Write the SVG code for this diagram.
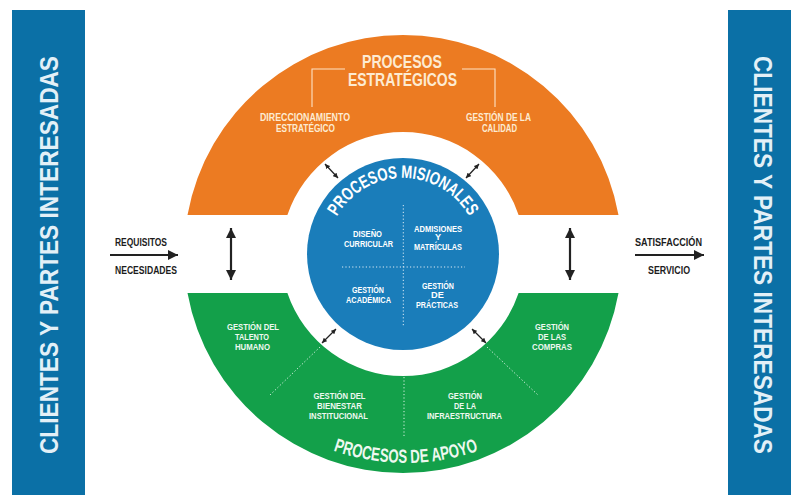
<svg xmlns="http://www.w3.org/2000/svg" width="791" height="495" viewBox="0 0 791 495">
  <style>
    .f { font-family: "Liberation Sans Narrow", "Liberation Sans", Arial, sans-serif; font-weight: bold; text-anchor: middle; }
    .bar { fill: #0b70a6; }
    .bartxt { font-family: "Liberation Sans Narrow", "Liberation Sans", Arial, sans-serif; font-weight: bold; font-size: 26px; fill: #e3f0f7; text-anchor: middle; }
    .dark { fill: #1c1c1c; font-size: 11.5px; }
    .cream { fill: #fdebd2; }
    .mint { fill: #eef8f0; }
    .wht { fill: #ffffff; }
    .s10 { font-size: 9.2px; }
    .s11 { font-size: 10.5px; }
    .title { font-size: 19px; }
    .arr { stroke: #222; stroke-width: 2.2; fill: none; }
    .sarr { stroke: #222; stroke-width: 1.3; fill: none; }
    .dotw { stroke: #ffffff; stroke-width: 1; stroke-dasharray: 1.2 2.2; fill: none; opacity: 0.85; }
    .brk { stroke: #fde3c6; stroke-width: 1.1; fill: none; }
  </style>
  <defs>
    <marker id="ah" markerUnits="userSpaceOnUse" markerWidth="10" markerHeight="10" refX="10" refY="5" orient="auto-start-reverse" viewBox="0 0 10 10">
      <path d="M0,0 L10,5 L0,10 z" fill="#222"/>
    </marker>
    <marker id="ahs" markerUnits="userSpaceOnUse" markerWidth="5" markerHeight="5" refX="5" refY="2.5" orient="auto-start-reverse" viewBox="0 0 5 5">
      <path d="M0,0 L5,2.5 L0,5 z" fill="#222"/>
    </marker>
    <path id="arcMis" d="M328.15,240.8 A76,76 0 0 1 477.85,240.8"/>
    <path id="arcApo" d="M197.4,316.9 A222,222 0 0 0 614.6,316.9"/>
  </defs>

  <rect width="791" height="495" fill="#ffffff"/>

  <g id="clientes-izq">
    <rect class="bar" x="12" y="10" width="73" height="485"/>
    <text class="bartxt" transform="translate(58,255) rotate(-90)" textLength="398" lengthAdjust="spacingAndGlyphs">CLIENTES Y PARTES INTERESADAS</text>
  </g>

  <g id="clientes-der">
    <rect class="bar" x="728" y="10" width="63" height="485"/>
    <text class="bartxt" transform="translate(754,255) rotate(90)" textLength="398" lengthAdjust="spacingAndGlyphs">CLIENTES Y PARTES INTERESADAS</text>
  </g>

  <g id="procesos-estrategicos">
    <path d="M187.5,215 A219,219 0 0 1 618.5,215 L518.6,215 A122,122 0 0 0 287.4,215 Z" fill="#ec7b22"/>
    <text class="f cream title" x="402" y="67.5" textLength="80" lengthAdjust="spacingAndGlyphs">PROCESOS</text>
    <text class="f cream title" x="402.5" y="86" textLength="109" lengthAdjust="spacingAndGlyphs">ESTRATÉGICOS</text>
    <path class="brk" d="M345,69 H312 V107 M462,69 H495 V107"/>
  </g>

  <g id="direccionamiento-estrategico">
    <text class="f cream s11" x="305" y="121" textLength="90" lengthAdjust="spacingAndGlyphs">DIRECCIONAMIENTO</text>
    <text class="f cream s11" x="305.5" y="131.5" textLength="59" lengthAdjust="spacingAndGlyphs">ESTRATÉGICO</text>
  </g>

  <g id="gestion-calidad">
    <text class="f cream s11" x="498.5" y="121" textLength="65" lengthAdjust="spacingAndGlyphs">GESTIÓN DE LA</text>
    <text class="f cream s11" x="499.5" y="131.5" textLength="35" lengthAdjust="spacingAndGlyphs">CALIDAD</text>
  </g>

  <g id="procesos-apoyo">
    <path d="M187.5,293 A219,219 0 0 0 618.5,293 L518.6,293 A122,122 0 0 1 287.4,293 Z" fill="#13a04a"/>
    <path class="dotw" d="M404,377 V438 M320,347 L270,395 M487,347 L538,395"/>
    <text class="f mint title"><textPath href="#arcApo" startOffset="50%" textLength="148" lengthAdjust="spacingAndGlyphs">PROCESOS DE APOYO</textPath></text>
  </g>

  <g id="gestion-talento-humano">
    <text class="f mint s10" x="253" y="330" textLength="52" lengthAdjust="spacingAndGlyphs">GESTIÓN DEL</text>
    <text class="f mint s10" x="252" y="339.5" textLength="34" lengthAdjust="spacingAndGlyphs">TALENTO</text>
    <text class="f mint s10" x="252.5" y="350" textLength="35" lengthAdjust="spacingAndGlyphs">HUMANO</text>
  </g>

  <g id="gestion-compras">
    <text class="f mint s10" x="552" y="330" textLength="34" lengthAdjust="spacingAndGlyphs">GESTIÓN</text>
    <text class="f mint s10" x="552" y="339.5" textLength="28" lengthAdjust="spacingAndGlyphs">DE LAS</text>
    <text class="f mint s10" x="552" y="350" textLength="40" lengthAdjust="spacingAndGlyphs">COMPRAS</text>
  </g>

  <g id="gestion-bienestar">
    <text class="f mint s10" x="339.5" y="399" textLength="52" lengthAdjust="spacingAndGlyphs">GESTIÓN DEL</text>
    <text class="f mint s10" x="339.5" y="408.5" textLength="45" lengthAdjust="spacingAndGlyphs">BIENESTAR</text>
    <text class="f mint s10" x="338.5" y="419" textLength="59" lengthAdjust="spacingAndGlyphs">INSTITUCIONAL</text>
  </g>

  <g id="gestion-infraestructura">
    <text class="f mint s10" x="465" y="399" textLength="34" lengthAdjust="spacingAndGlyphs">GESTIÓN</text>
    <text class="f mint s10" x="465" y="408.5" textLength="22" lengthAdjust="spacingAndGlyphs">DE LA</text>
    <text class="f mint s10" x="464.5" y="419" textLength="75" lengthAdjust="spacingAndGlyphs">INFRAESTRUCTURA</text>
  </g>

  <g id="procesos-misionales">
    <circle cx="403" cy="254" r="96" fill="#1a7dba"/>
    <path class="dotw" d="M403.3,205 V327 M342,267 H465"/>
    <text class="f wht" style="font-size:18px"><textPath href="#arcMis" startOffset="50%" textLength="160" lengthAdjust="spacingAndGlyphs">PROCESOS MISIONALES</textPath></text>
  </g>

  <g id="diseno-curricular">
    <text class="f wht s10" x="367.5" y="237" textLength="29" lengthAdjust="spacingAndGlyphs">DISEÑO</text>
    <text class="f wht s10" x="368.5" y="246.5" textLength="49" lengthAdjust="spacingAndGlyphs">CURRICULAR</text>
  </g>

  <g id="admisiones-matriculas">
    <text class="f wht s10" x="438" y="231.5" textLength="48" lengthAdjust="spacingAndGlyphs">ADMISIONES</text>
    <text class="f wht s10" x="438" y="240">Y</text>
    <text class="f wht s10" x="438" y="249.5" textLength="48" lengthAdjust="spacingAndGlyphs">MATRÍCULAS</text>
  </g>

  <g id="gestion-academica">
    <text class="f wht s10" x="368" y="293" textLength="32" lengthAdjust="spacingAndGlyphs">GESTIÓN</text>
    <text class="f wht s10" x="368.5" y="303" textLength="45" lengthAdjust="spacingAndGlyphs">ACADÉMICA</text>
  </g>

  <g id="gestion-practicas">
    <text class="f wht s10" x="438" y="288.5" textLength="32" lengthAdjust="spacingAndGlyphs">GESTIÓN</text>
    <text class="f wht s10" x="437.5" y="298">DE</text>
    <text class="f wht s10" x="437" y="308" textLength="42" lengthAdjust="spacingAndGlyphs">PRÁCTICAS</text>
  </g>

  <g id="entrada">
    <text class="f dark" x="141" y="246" textLength="52" lengthAdjust="spacingAndGlyphs">REQUISITOS</text>
    <text class="f dark" x="146" y="274" textLength="62" lengthAdjust="spacingAndGlyphs">NECESIDADES</text>
  </g>

  <g id="salida">
    <text class="f dark" x="668.5" y="246" textLength="67" lengthAdjust="spacingAndGlyphs">SATISFACCIÓN</text>
    <text class="f dark" x="669" y="274" textLength="42" lengthAdjust="spacingAndGlyphs">SERVICIO</text>
  </g>

  <g id="connectors">
    <line class="arr" x1="110" y1="255" x2="178" y2="255" marker-end="url(#ah)"/>
    <line class="arr" x1="635" y1="255" x2="704" y2="255" marker-end="url(#ah)"/>
    <line class="arr" x1="231" y1="228" x2="231" y2="280" marker-start="url(#ah)" marker-end="url(#ah)"/>
    <line class="arr" x1="570" y1="228" x2="570" y2="280" marker-start="url(#ah)" marker-end="url(#ah)"/>
    <line class="sarr" x1="325" y1="164" x2="338" y2="178" marker-start="url(#ahs)" marker-end="url(#ahs)"/>
    <line class="sarr" x1="479" y1="164" x2="466" y2="178" marker-start="url(#ahs)" marker-end="url(#ahs)"/>
    <line class="sarr" x1="322" y1="343" x2="336" y2="329" marker-start="url(#ahs)" marker-end="url(#ahs)"/>
    <line class="sarr" x1="486" y1="343" x2="472" y2="329" marker-start="url(#ahs)" marker-end="url(#ahs)"/>
  </g>
</svg>
